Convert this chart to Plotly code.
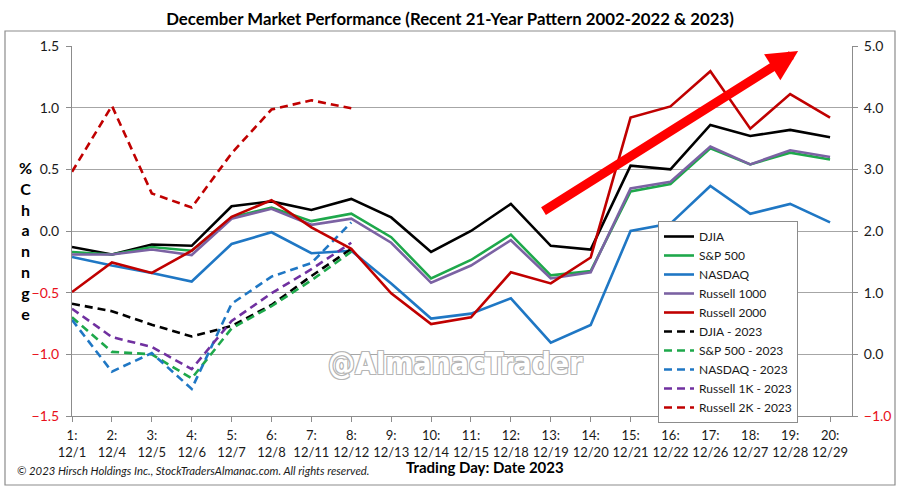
import plotly.graph_objects as go

# ---------------- data ----------------
days = list(range(1, 21))
dates = ["12/1", "12/4", "12/5", "12/6", "12/7", "12/8", "12/11", "12/12", "12/13", "12/14",
         "12/15", "12/18", "12/19", "12/20", "12/21", "12/22", "12/26", "12/27", "12/28", "12/29"]
tick_labels = [f"{d}:<br>{t}" for d, t in zip(days, dates)]

# Recent 21-year pattern (left axis, % change)
djia = [-0.13, -0.19, -0.11, -0.12, 0.20, 0.24, 0.17, 0.26, 0.11, -0.17,
        0.00, 0.22, -0.12, -0.15, 0.53, 0.50, 0.86, 0.77, 0.82, 0.76]
sp500 = [-0.17, -0.19, -0.13, -0.16, 0.11, 0.19, 0.08, 0.14, -0.05, -0.385,
         -0.235, -0.03, -0.36, -0.325, 0.32, 0.38, 0.67, 0.54, 0.635, 0.58]
nasdaq = [-0.21, -0.28, -0.34, -0.41, -0.105, -0.01, -0.18, -0.16, -0.425, -0.71,
          -0.67, -0.546, -0.905, -0.762, 0.00, 0.06, 0.365, 0.14, 0.22, 0.07]
russell1000 = [-0.19, -0.19, -0.15, -0.195, 0.10, 0.18, 0.05, 0.10, -0.095, -0.42,
               -0.28, -0.075, -0.385, -0.335, 0.345, 0.40, 0.685, 0.54, 0.655, 0.60]
# Russell 2000 pattern (right axis, % change)
russell2000 = [1.01, 1.49, 1.32, 1.68, 2.23, 2.50, 2.06, 1.71, 0.99, 0.49,
               0.60, 1.33, 1.15, 1.57, 3.84, 4.02, 4.59, 3.66, 4.22, 3.84]

# 2023 actual (first 8 trading days)
days_2023 = days[:8]
djia_2023 = [-0.59, -0.65, -0.76, -0.855, -0.77, -0.60, -0.365, -0.145]
sp500_2023 = [-0.70, -0.98, -1.0, -1.195, -0.79, -0.61, -0.40, -0.168]
nasdaq_2023 = [-0.72, -1.14, -0.99, -1.28, -0.59, -0.37, -0.26, 0.07]
russell1k_2023 = [-0.63, -0.86, -0.94, -1.12, -0.73, -0.505, -0.31, -0.095]
russell2k_2023 = [2.96, 4.03, 2.61, 2.38, 3.26, 3.97, 4.12, 3.99]  # right axis

left_ticks = [-1.5, -1.0, -0.5, 0.0, 0.5, 1.0, 1.5]
right_ticks = [-1.0, 0.0, 1.0, 2.0, 3.0, 4.0, 5.0]

# ---------------- styling ----------------
FONT = "Lato"
C_DJIA = "#000000"
C_SP = "#1EA84B"
C_NAS = "#1F77C4"
C_R1 = "#7B62A3"
C_R2 = "#C00000"
C_R1K23 = "#7030A0"
C_R2K23 = "#C00000"
LW = 2.6
DASH = "8px,5px"


def fmt(v):
    s = f"{abs(v):.1f}"
    if v < 0:
        return f'<span style="color:#E8101A">\u2212{s}</span>'
    return s


fig = go.Figure()

solid = [("DJIA", djia, C_DJIA, "y"), ("S&P 500", sp500, C_SP, "y"),
         ("NASDAQ", nasdaq, C_NAS, "y"), ("Russell 1000", russell1000, C_R1, "y"),
         ("Russell 2000", russell2000, C_R2, "y2")]
for name, vals, col, ax in solid:
    fig.add_trace(go.Scatter(x=days, y=vals, name=name, mode="lines", yaxis=ax,
                             line=dict(color=col, width=LW)))

dashed = [("DJIA - 2023", djia_2023, C_DJIA, "y"), ("S&P 500 - 2023", sp500_2023, C_SP, "y"),
          ("NASDAQ - 2023", nasdaq_2023, C_NAS, "y"), ("Russell 1K - 2023", russell1k_2023, C_R1K23, "y"),
          ("Russell 2K - 2023", russell2k_2023, C_R2K23, "y2")]
for name, vals, col, ax in dashed:
    fig.add_trace(go.Scatter(x=days_2023, y=vals, name=name, mode="lines", yaxis=ax,
                             line=dict(color=col, width=LW, dash=DASH)))

L, R, T, B = 72, 48, 46, 72
W, H = 900, 488
pw, ph = W - L - R, H - T - B


def px_x(p):
    return (p - L) / pw


def px_y(p):
    return (H - B - p) / ph


fig.update_layout(
    width=W, height=H,
    margin=dict(l=L, r=R, t=T, b=B, autoexpand=False),
    paper_bgcolor="white", plot_bgcolor="white",
    font=dict(family=FONT, size=14, color="#1a1a1a"),
    title=dict(text="<b>December Market Performance (Recent 21-Year Pattern 2002-2022 & 2023)</b>",
               x=0.5, xanchor="center", y=1 - 19 / H, yanchor="middle",
               font=dict(family=FONT, size=16.8, color="#000000")),
    showlegend=True,
    legend=dict(x=px_x(658), y=px_y(221), xanchor="left", yanchor="top",
                bgcolor="white", bordercolor="#8c8c8c", borderwidth=1,
                font=dict(family=FONT, size=12, color="#1a1a1a"),
                tracegroupgap=0, itemwidth=30),
    xaxis=dict(range=[1, 20.55], tickmode="array", tickvals=days, ticktext=tick_labels,
               tickangle=0, automargin=False,
               showgrid=False, zeroline=False, showline=True, linecolor="#8c8c8c", linewidth=1,
               ticks="outside", ticklen=5, tickcolor="#8c8c8c", ticklabelstandoff=2,
               tickfont=dict(family=FONT, size=13, color="#1a1a1a")),
    yaxis=dict(range=[-1.5, 1.5], tickmode="array", tickvals=left_ticks,
               ticktext=[fmt(v) for v in left_ticks], automargin=False,
               showgrid=True, gridcolor="#a6a6a6", gridwidth=1, zeroline=False,
               showline=True, linecolor="#8c8c8c", linewidth=1,
               ticks="outside", ticklen=5, tickcolor="#8c8c8c", ticklabelstandoff=4,
               tickfont=dict(family=FONT, size=14, color="#1a1a1a")),
    yaxis2=dict(range=[-1.0, 5.0], overlaying="y", side="right", tickmode="array",
                tickvals=right_ticks, ticktext=[fmt(v) for v in right_ticks], automargin=False,
                showgrid=False, zeroline=False, showline=True, linecolor="#8c8c8c", linewidth=1,
                ticks="outside", ticklen=5, tickcolor="#8c8c8c", ticklabelstandoff=3,
                tickfont=dict(family=FONT, size=14, color="#1a1a1a")),
)

# outer frame below the title
fig.add_shape(type="rect", xref="paper", yref="paper",
              x0=px_x(5), x1=px_x(895), y0=px_y(485), y1=px_y(31),
              line=dict(color="#8c8c8c", width=1.2), fillcolor="rgba(0,0,0,0)", layer="below")

# trend arrow
fig.add_annotation(x=19.2, y=1.46, ax=12.78, ay=0.154, xref="x", yref="y", axref="x", ayref="y",
                   text="", showarrow=True, arrowhead=2, arrowsize=0.68, arrowwidth=9,
                   arrowcolor="#FF0000", standoff=0)

# y-axis title (stacked letters, as in the original)
fig.add_annotation(x=px_x(17), y=px_y(240), xref="paper", yref="paper",
                   text="<b>%<br>C<br>h<br>a<br>n<br>n<br>g<br>e</b>", showarrow=False,
                   align="center", font=dict(family=FONT, size=16, color="#000000"))

# x-axis title
fig.add_annotation(x=px_x(485), y=px_y(478), xref="paper", yref="paper",
                   text="<b>Trading Day: Date 2023</b>", showarrow=False,
                   font=dict(family=FONT, size=15, color="#000000"))

# copyright
fig.add_annotation(x=px_x(15), y=px_y(479), xref="paper", yref="paper", xanchor="left",
                   text="<i>\u00a9 2023 Hirsch Holdings Inc., StockTradersAlmanac.com. All rights reserved.</i>",
                   showarrow=False, font=dict(family=FONT, size=11.3, color="#1a1a1a"))

# watermark
fig.add_annotation(x=px_x(455), y=px_y(383), xref="paper", yref="paper",
                   text="<b>@AlmanacTrader</b>", showarrow=False,
                   font=dict(family="DejaVu Sans Condensed, Liberation Sans Narrow, sans-serif",
                             size=30, color="#ffffff",
                             shadow="1px 1px 0 #b5b5b5, -1px -1px 0 #b5b5b5, 1px -1px 0 #b5b5b5, -1px 1px 0 #b5b5b5"))

fig.write_html("out.html", config={"displayModeBar": False},
               post_script="document.body.style.margin='0';document.body.style.overflow='hidden';")
